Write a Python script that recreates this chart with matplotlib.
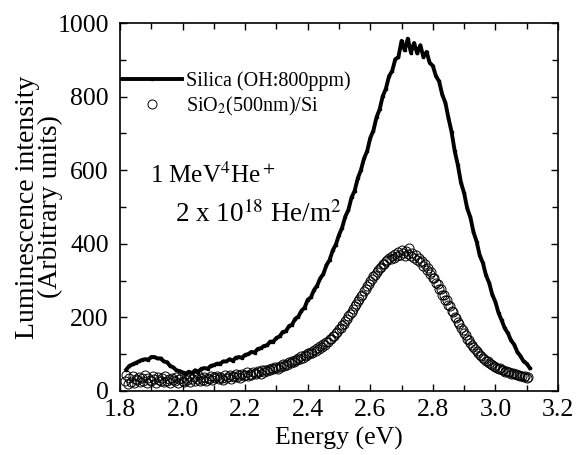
import numpy as np
import matplotlib
matplotlib.use("Agg")
import matplotlib.pyplot as plt
from matplotlib.ticker import MultipleLocator

plt.rcParams['font.family'] = ['Liberation Serif', 'DejaVu Serif']
plt.rcParams['mathtext.fontset'] = 'stix'

# Silica (OH:800ppm), 1.82 .. 3.11 eV, step 0.01
silica_energy = np.round(np.arange(1.82, 3.1101, 0.01), 3)
silica_lum = [
    58, 68, 72, 76, 80, 84, 86, 85, 92, 92,
    88, 88, 80, 78, 68, 64, 56, 54, 50, 47,
    52, 48, 56, 52, 60, 62, 60, 68, 70, 74,
    74, 80, 80, 86, 82, 90, 92, 90, 98, 100,
    106, 104, 114, 116, 122, 124, 134, 134, 144, 148,
    160, 162, 176, 180, 196, 202, 218, 226, 248, 254,
    274, 286, 306, 318, 342, 356, 382, 398, 424, 444,
    474, 492, 526, 544, 578, 600, 632, 652, 688, 708,
    744, 766, 802, 822, 856, 870, 902, 908, 952, 926,
    958, 920, 946, 918, 940, 908, 922, 892, 884, 856,
    842, 806, 784, 742, 704, 652, 614, 566, 538, 496,
    472, 432, 406, 368, 348, 314, 294, 262, 242, 212,
    192, 170, 157, 137, 126, 106, 95, 80, 74, 62,
]

# SiO2 (500nm)/Si, 1.815 .. 3.105 eV, step 0.005
film_energy = np.round(np.arange(1.815, 3.1051, 0.005), 4)
film_lum = [
    28, 42, 18, 35, 25, 40, 22, 33, 30, 38,
    24, 36, 28, 42, 20, 34, 30, 26, 40, 32,
    22, 38, 30, 27, 36, 24, 40, 28, 33, 21,
    35, 30, 26, 38, 22, 32, 36, 28, 25, 34,
    30, 40, 24, 33, 37, 27, 31, 42, 26, 35,
    30, 38, 28, 36, 33, 41, 29, 37, 34, 40,
    32, 39, 36, 30, 42, 35, 38, 44, 33, 40,
    37, 45, 39, 42, 36, 47, 41, 44, 50, 40,
    46, 43, 52, 48, 45, 55, 50, 47, 56, 52,
    58, 54, 60, 57, 63, 59, 66, 62, 60, 68,
    65, 72, 68, 74, 70, 78, 75, 82, 79, 85,
    83, 90, 86, 94, 90, 98, 95, 102, 100, 107,
    104, 112, 108, 117, 114, 122, 120, 128, 126, 134,
    133, 142, 140, 150, 148, 158, 160, 168, 170, 180,
    182, 190, 195, 204, 208, 215, 222, 230, 236, 244,
    250, 258, 262, 272, 278, 285, 290, 300, 305, 312,
    316, 322, 328, 334, 336, 344, 346, 352, 355, 360,
    358, 366, 362, 372, 368, 378, 370, 382, 374, 368,
    380, 372, 388, 366, 376, 362, 370, 356, 362, 350,
    352, 340, 344, 330, 334, 318, 322, 306, 308, 292,
    290, 276, 278, 262, 262, 248, 246, 234, 230, 218,
    214, 202, 198, 186, 182, 170, 166, 156, 152, 142,
    138, 130, 126, 118, 114, 108, 103, 98, 94, 90,
    86, 82, 80, 76, 74, 70, 68, 66, 63, 60,
    62, 56, 58, 52, 55, 50, 52, 47, 49, 45,
    46, 42, 44, 40, 41, 38, 40, 36, 38,
]

fig = plt.figure(figsize=(5.77, 4.55), dpi=100)
ax = fig.add_axes([0.208, 0.141, 0.759, 0.808])

ax.plot(silica_energy, silica_lum, color='black', lw=2.8, marker='s', ms=1.5,
        label='Silica (OH:800ppm)', zorder=3)
ax.plot(film_energy, film_lum, ls='none', marker='o', ms=6.5, mfc='none',
        mec='black', mew=0.7, label=r'SiO$_2$(500nm)/Si', zorder=2)

ax.set_xlim(1.8, 3.2)
ax.set_ylim(0, 1000)
ax.xaxis.set_major_locator(MultipleLocator(0.2))
ax.xaxis.set_minor_locator(MultipleLocator(0.1))
ax.yaxis.set_major_locator(MultipleLocator(200))
ax.yaxis.set_minor_locator(MultipleLocator(100))
ax.tick_params(which='both', direction='in', top=True, right=True, width=1.0)
ax.tick_params(which='major', length=5, labelsize=18.5)
ax.tick_params(axis='x', which='major', pad=6)
ax.tick_params(axis='y', which='major', pad=8)
ax.tick_params(which='minor', length=4.5)
for s in ax.spines.values():
    s.set_linewidth(1.2)

ax.set_xlabel('Energy (eV)', fontsize=18.5, labelpad=4)
ax.set_ylabel('Luminescence intensity\n(Arbitrary units)', fontsize=20,
              linespacing=0.9)
ax.yaxis.set_label_coords(-0.13, 0.5)

ax.legend(loc='upper left', bbox_to_anchor=(0.0, 0.875), frameon=False,
          fontsize=14.5, numpoints=1, handlelength=3.0, handletextpad=0.2,
          labelspacing=0.2, borderaxespad=0.0, borderpad=0.1)

ax.text(0.068, 0.565, r'1 MeV$^4$He$^+$', transform=ax.transAxes,
        fontsize=18, va='baseline')
ax.text(0.125, 0.46, r'2 x 10$^{18}$ He/m$^2$', transform=ax.transAxes,
        fontsize=19.5, va='baseline')

fig.savefig('out.png', dpi=100)
